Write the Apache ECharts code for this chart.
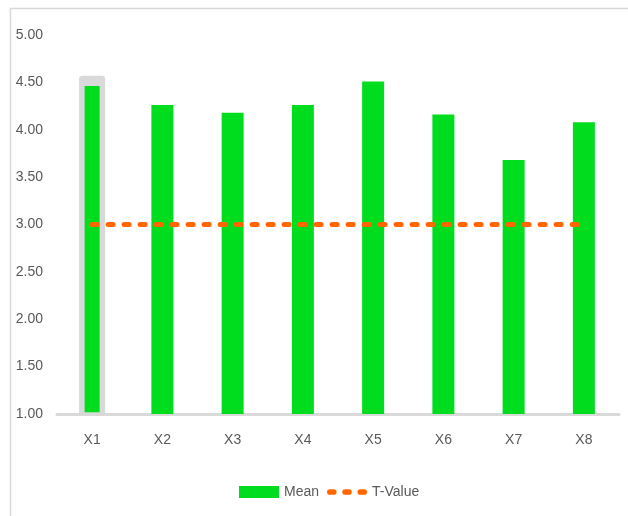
<!DOCTYPE html>
<html>
<head>
<meta charset="utf-8">
<script src="https://cdn.jsdelivr.net/npm/echarts@6/dist/echarts.min.js"></script>
<style>html,body{margin:0;padding:0;background:#fff}#c{width:628px;height:516px}</style>
</head>
<body>
<div id="c"></div>
<script>
const categories = ['X1','X2','X3','X4','X5','X6','X7','X8'];
const meanValues = [4.50, 4.26, 4.18, 4.26, 4.51, 4.16, 3.68, 4.08];
const tValues = [3.00, 3.00, 3.00, 3.00, 3.00, 3.00, 3.00, 3.00];
const yTicks = [1.00, 1.50, 2.00, 2.50, 3.00, 3.50, 4.00, 4.50, 5.00];
const selectedIndex = 0;

const FONT = "'Liberation Sans', Arial, sans-serif";
const FS = 14;
const dashIcon = 'path://M3,0H7A3,3 0 0 1 7,6H3A3,3 0 0 1 3,0Z' +
  'M19,0H23A3,3 0 0 1 23,6H19A3,3 0 0 1 19,0Z' +
  'M35,0H39A3,3 0 0 1 39,6H35A3,3 0 0 1 35,0Z';
const chart = echarts.init(document.getElementById('c'));
chart.setOption({
  animation: false,
  graphic: [{
    type: 'rect', left: 8, top: 6, silent: true,
    shape: { width: 700, height: 600 },
    style: { fill: 'none', stroke: '#d9d9d9', lineWidth: 1.5 }
  }],
  grid: { left: 57, right: 9, top: 35, bottom: 102, containLabel: false },
  legend: {
    left: 234, top: 480, itemWidth: 40, itemHeight: 12, itemGap: 8,
    textStyle: { fontFamily: FONT, fontSize: FS, color: '#595959' },
    data: [
      { name: 'Mean', icon: 'rect' },
      { name: 'T-Value', icon: dashIcon, itemStyle: { color: '#ff6600' } }
    ]
  },
  xAxis: [{
    type: 'category', data: categories,
    axisLine: { lineStyle: { color: '#d9d9d9', width: 3 } },
    axisTick: { show: false },
    axisLabel: { fontFamily: FONT, fontSize: FS, color: '#595959', margin: 19 }
  }, {
    type: 'category', data: categories, show: false
  }],
  yAxis: {
    type: 'value', min: yTicks[0], max: yTicks[yTicks.length - 1], interval: 0.5,
    splitLine: { show: false },
    axisLine: { show: false }, axisTick: { show: false },
    axisLabel: { fontFamily: FONT, fontSize: FS, color: '#595959', margin: 14,
      formatter: v => v.toFixed(2) }
  },
  series: [
    {
      name: 'Selection', type: 'bar', xAxisIndex: 1, barWidth: 26, silent: true,
      itemStyle: { color: '#d9d9d9', borderRadius: [3, 3, 0, 0] },
      data: meanValues.map((v, i) => i === selectedIndex ? v + 0.07 : '-'),
      z: 1
    },
    {
      name: 'Mean', type: 'bar', barWidth: 22, z: 2,
      itemStyle: { color: '#00dd1f' },
      data: meanValues.map((v, i) => i === selectedIndex
        ? { value: v, itemStyle: { borderColor: '#d9d9d9', borderWidth: 3.5 } }
        : v)
    },
    {
      name: 'T-Value', type: 'line', data: tValues, symbol: 'none', z: 3,
      lineStyle: { color: '#ff6600', width: 5, type: [5, 11], cap: 'round' },
      itemStyle: { color: '#ff6600' }
    }
  ]
});
</script>
</body>
</html>
